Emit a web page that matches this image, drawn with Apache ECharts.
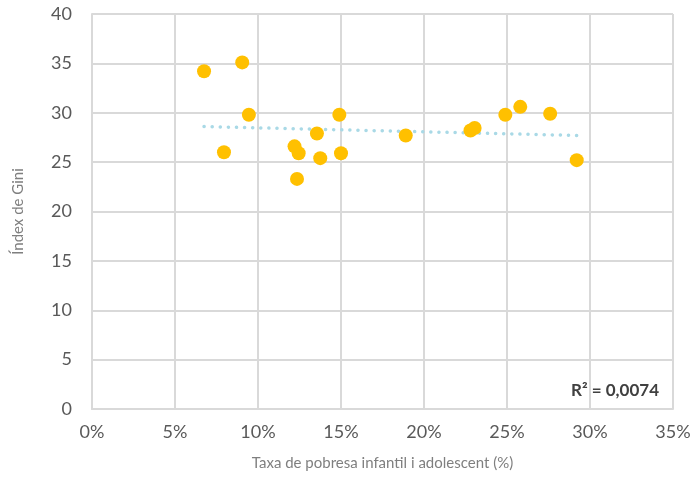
<!DOCTYPE html>
<html>
<head>
<meta charset="utf-8">
<script src="https://cdn.jsdelivr.net/npm/echarts@6/dist/echarts.min.js"></script>
<style>
  html, body { margin: 0; padding: 0; background: #fff; }
  #chart { width: 696px; height: 490px; }
</style>
</head>
<body>
<div id="chart"></div>
<script>
// pobresa infantil (%) vs índex de Gini
var povertyPct = [6.75, 9.05, 9.45, 7.95, 12.2, 12.45, 12.35, 13.55, 13.75, 14.9, 15.0, 18.9, 22.8, 23.05, 24.9, 25.8, 27.6, 29.2];
var giniIndex = [34.2, 35.1, 29.8, 26.0, 26.6, 25.9, 23.3, 27.9, 25.4, 29.8, 25.9, 27.7, 28.2, 28.45, 29.8, 30.6, 29.9, 25.2];
var trendX = [6.75, 29.2];
var trendY = [28.6, 27.7];
var r2Label = "R² = 0,0074";

var points = povertyPct.map(function (x, i) { return [x, giniIndex[i]]; });
var trend = trendX.map(function (x, i) { return [x, trendY[i]]; });

var myChart = echarts.init(document.getElementById("chart"));
myChart.setOption({
  animation: false,
  textStyle: { fontFamily: "Lato" },
  grid: { left: 92, top: 14, right: 23, bottom: 81, containLabel: false },
  xAxis: {
    type: "value",
    min: 0,
    max: 35,
    interval: 5,
    name: "Taxa de pobresa infantil i adolescent (%)",
    nameLocation: "middle",
    nameGap: 47,
    nameTextStyle: { color: "#7f7f7f", fontSize: 15 },
    axisLine: { show: true, lineStyle: { color: "#d9d9d9", width: 2 } },
    axisTick: { show: false },
    axisLabel: {
      color: "#595959",
      fontSize: 18,
      margin: 14,
      formatter: function (v) { return v + "%"; }
    },
    splitLine: { show: true, lineStyle: { color: "#d9d9d9", width: 2 } }
  },
  yAxis: {
    type: "value",
    min: 0,
    max: 40,
    interval: 5,
    name: "Índex de Gini",
    nameLocation: "middle",
    nameGap: 66,
    nameTextStyle: { color: "#7f7f7f", fontSize: 15 },
    axisLine: { show: true, lineStyle: { color: "#d9d9d9", width: 2 } },
    axisTick: { show: false },
    axisLabel: { color: "#595959", fontSize: 18, margin: 20 },
    splitLine: { show: true, lineStyle: { color: "#d9d9d9", width: 2 } }
  },
  graphic: [
    {
      type: "text",
      right: 37,
      top: 382,
      style: {
        text: r2Label,
        fill: "#404040",
        font: "bold 17px Lato"
      }
    },
    {
      // vora dreta del gràfic
      type: "line",
      shape: { x1: 673, y1: 14, x2: 673, y2: 409 },
      style: { stroke: "#d9d9d9", lineWidth: 2 }
    }
  ],
  series: [
    {
      type: "line",
      data: trend,
      symbol: "none",
      z: 1,
      lineStyle: {
        color: "#a9d9e6",
        width: 3.5,
        type: [0.1, 8],
        cap: "round"
      }
    },
    {
      type: "scatter",
      data: points,
      symbolSize: 14,
      z: 3,
      itemStyle: { color: "#ffc000", opacity: 1 }
    }
  ]
});
</script>
</body>
</html>
